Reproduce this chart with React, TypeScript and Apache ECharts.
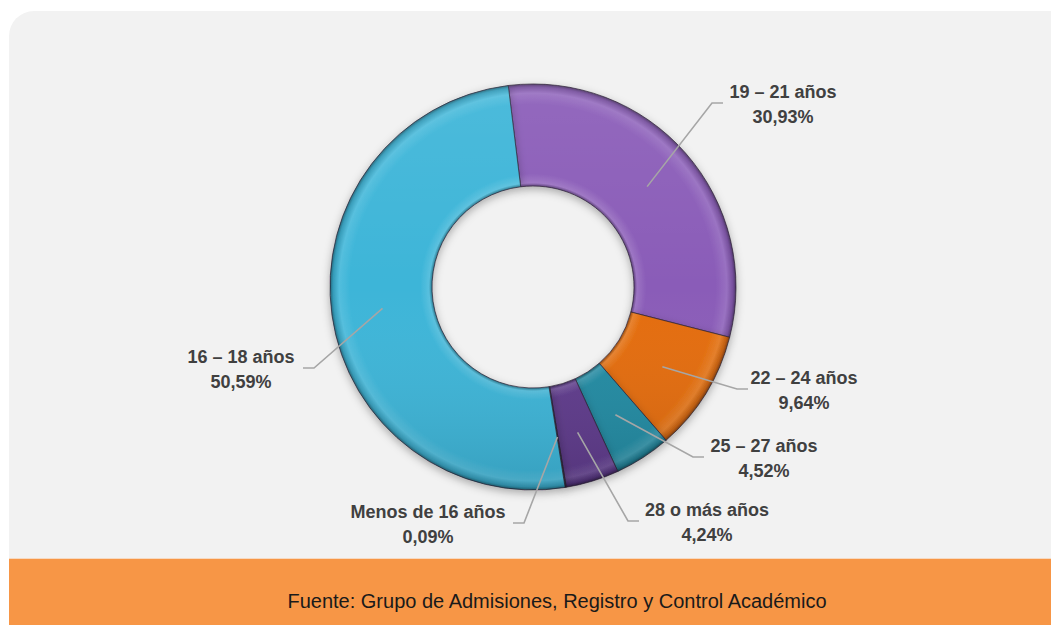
import React, { useEffect, useRef } from "react";
import * as echarts from "echarts";

const categories = ["19 – 21 años", "22 – 24 años", "25 – 27 años", "28 o más años", "Menos de 16 años", "16 – 18 años"];
const percentages = [30.93, 9.64, 4.52, 4.24, 0.09, 50.59];
const sliceColors = ["#8A5CB8", "#E46C0A", "#218BA3", "#5E3A8C", "#3A3A3A", "#3CB5D8"];
const footerText = "Fuente: Grupo de Admisiones, Registro y Control Académico";

// label placement (layout only): text-block centers, leader-line end x, side
const labelPos = [
  { x: 783, y: 104, endX: 723, side: 1 },
  { x: 804, y: 390, endX: 748, side: 1 },
  { x: 764, y: 458, endX: 704, side: 1 },
  { x: 707, y: 522, endX: 639, side: 1 },
  { x: 428, y: 524, endX: 513, side: -1 },
  { x: 241, y: 369, endX: 303, side: -1 },
];

const CX = 533;
const CY = 287;
const R_IN = 101;
const R_OUT = 203;
const START = 97;

function shade(hex: string, amt: number) {
  const n = parseInt(hex.slice(1), 16);
  let r = (n >> 16) & 255, g = (n >> 8) & 255, b = n & 255;
  const f = (c: number) => (amt >= 0 ? Math.round(c + (255 - c) * amt) : Math.round(c * (1 + amt)));
  r = f(r); g = f(g); b = f(b);
  return `rgb(${r},${g},${b})`;
}

function bevel(color: string) {
  const k = R_IN / R_OUT;
  return {
    type: "radial",
    x: CX,
    y: CY,
    r: R_OUT,
    global: true,
    colorStops: [
      { offset: 0, color: shade(color, -0.35) },
      { offset: k, color: shade(color, -0.35) },
      { offset: k + 0.015, color: shade(color, 0.15) },
      { offset: k + 0.06, color: color },
      { offset: 0.9, color: color },
      { offset: 0.955, color: shade(color, 0.12) },
      { offset: 0.985, color: shade(color, -0.15) },
      { offset: 1, color: shade(color, -0.45) },
    ],
  };
}

export default function App() {
  const ref = useRef<HTMLDivElement>(null);
  useEffect(() => {
    if (!ref.current) return;
    const chart = echarts.init(ref.current, null, { renderer: "svg" });
    const total = percentages.reduce((a, b) => a + b, 0);
    const mids: number[] = [];
    let cum = 0;
    percentages.forEach((v) => {
      mids.push(START - ((cum + v / 2) / total) * 360);
      cum += v;
    });
    const rMid = (R_IN + R_OUT) / 2;
    const labelFont = "'Liberation Sans', Arial, sans-serif";

    const leaderLines = labelPos.map((lp, i) => {
      const a = (mids[i] * Math.PI) / 180;
      const sx = CX + rMid * Math.cos(a);
      const sy = CY - rMid * Math.sin(a);
      const ly = lp.y - 1;
      return {
        type: "polyline",
        shape: {
          points: [
            [sx, sy],
            [lp.endX - lp.side * 11, ly],
            [lp.endX, ly],
          ],
        },
        style: { stroke: "#A6A6A6", lineWidth: 1.6, fill: null },
        z: 100,
      };
    });

    chart.setOption({
      animation: false,
      graphic: [
        {
          type: "rect",
          shape: { x: 9, y: 11, width: 1065, height: 548, r: [25, 22, 0, 0] },
          style: { fill: "#F2F2F2" },
          z: -10,
        },
        {
          type: "rect",
          shape: { x: 9, y: 559, width: 1060, height: 80 },
          style: { fill: "#F79646" },
          z: -10,
        },
        {
          type: "line",
          shape: { x1: 9, y1: 558.5, x2: 1051, y2: 558.5 },
          style: { stroke: "#F7D9C0", lineWidth: 1 },
          z: -9,
        },
        {
          type: "text",
          x: 557,
          y: 601,
          style: {
            text: footerText,
            fill: "#1A1A1A",
            font: `20px ${labelFont}`,
            align: "center",
            verticalAlign: "middle",
          },
          z: 10,
        },
        ...leaderLines,
      ],
      series: [
        {
          type: "pie",
          center: [CX, CY],
          radius: [R_IN, R_OUT],
          startAngle: START,
          clockwise: true,
          avoidLabelOverlap: false,
          minAngle: 0,
          z: 2,
          data: categories.map((name, i) => ({
            name,
            value: percentages[i],
            itemStyle: { color: bevel(sliceColors[i]) },
          })),
          itemStyle: {
            borderColor: "rgba(40,30,50,0.7)",
            borderWidth: 1,
            shadowBlur: 8,
            shadowColor: "rgba(0,0,0,0.3)",
            shadowOffsetY: 3,
          },
          emphasis: { disabled: true },
          label: {
            show: true,
            formatter: (p: any) => `${p.name}\n${p.value.toFixed(2).replace(".", ",")}%`,
            color: "#404040",
            fontFamily: labelFont,
            fontWeight: "bold",
            fontSize: 18,
            lineHeight: 25,
          },
          labelLine: { show: false },
          labelLayout: (params: any) => {
            const lp = labelPos[params.dataIndex];
            return { x: lp.x, y: lp.y, align: "center", verticalAlign: "middle" };
          },
        },
        {
          type: "pie",
          center: [CX, CY],
          radius: [R_IN, R_OUT],
          silent: true,
          z: 3,
          label: { show: false },
          labelLine: { show: false },
          emphasis: { disabled: true },
          tooltip: { show: false },
          data: [
            {
              name: "",
              value: 1,
              itemStyle: {
                color: {
                  type: "linear",
                  global: true,
                  x: 0,
                  y: CY - R_OUT,
                  x2: 0,
                  y2: CY + R_OUT,
                  colorStops: [
                    { offset: 0, color: "rgba(255,255,255,0.08)" },
                    { offset: 0.5, color: "rgba(255,255,255,0)" },
                    { offset: 1, color: "rgba(0,0,0,0.12)" },
                  ],
                },
                borderWidth: 0,
              },
            },
          ],
        },
      ],
    });
    return () => chart.dispose();
  }, []);
  return (
    <div style={{ position: "fixed", left: 0, top: 0, width: 1051, height: 625, background: "#FFFFFF" }}>
      <div ref={ref} style={{ width: 1051, height: 625 }} />
    </div>
  );
}
